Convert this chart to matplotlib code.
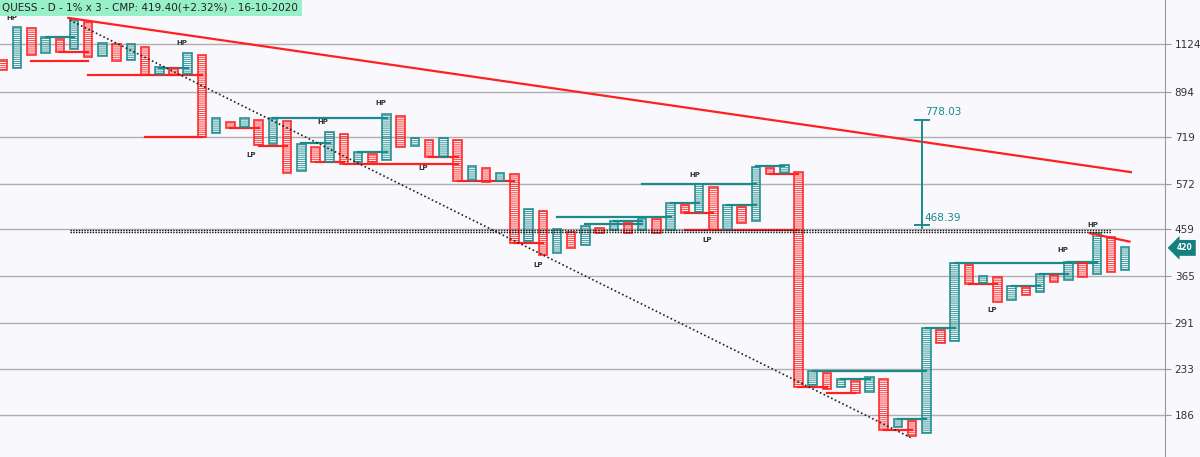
import matplotlib
matplotlib.use("Agg")
import matplotlib.pyplot as plt
import numpy as np

# P&F columns (even index = red/O column, odd = teal/X column)
col_top = [1042,1223,1217,1165,1153,1265,1250,1131,1124,1124,1110,1007,1002,1078,1067,786,771,786,779,786,
           775,693,683,735,728,667,660,802,794,714,707,714,707,623,617,602,599,506,501,459,
           452,466,461,477,473,484,482,521,516,571,563,516,511,620,617,626,605,231,228,222,
           220,224,222,183,181,284,281,389,386,365,364,348,346,369,367,391,389,450,442,421]
col_bot = [992,1002,1067,1078,1083,1099,1057,1062,1037,1042,969,973,969,973,719,731,749,753,690,693,
           602,608,635,635,629,635,635,641,683,687,651,651,579,582,577,579,429,433,405,409,
           419,425,450,457,450,457,450,457,496,499,457,457,473,477,599,602,213,215,211,213,
           207,208,173,176,168,171,264,267,352,353,322,325,333,338,355,358,364,369,373,376]

# support/resistance lines: (start col, end col, price, colour key)
lv_start = [2,6,4,10,11,3,19,16,18,21,22,25,30,24,32,36,39,41,43,47,45,48,51,54,53,48,56,57,58,59,62,63,65,67,68,71,73,75]
lv_end   = [6,14,6,14,13,5,27,18,20,23,24,27,32,32,36,38,47,45,45,49,53,50,53,56,55,56,58,65,60,61,64,65,67,77,70,73,75,77]
lv_price = [1037,969,1083,719,1002,1165,786,749,687,697,635,667,651,629,580,429,486,470,477,521,571,496,516,599,623,457,213,231,207,222,173,183,284,389,352,348,369,391]
lv_kind  = ['r','r','r','r','t','t','t','r','r','t','r','t','r','r','r','r','t','t','t','t','t','r','t','r','t','r','r','t','r','t','r','t','t','t','r','t','t','t']

hp_cols = [0.6,12.6,26.6,22.5,48.7,74.6,76.7]
hp_price = [1275,1131,846,771,596,415,468]
lp_cols = [17.5,29.6,37.7,49.6,69.6]
lp_price = [657,617,386,435,310]

yticks = [1124,894,719,572,459,365,291,233,186]

RED = '#ff2020'
TEAL = '#1a8a8a'
cmap = {'r': RED, 't': TEAL}

plt.rcParams['hatch.linewidth'] = 0.7
fig = plt.figure(figsize=(12, 4.57), dpi=100)
fig.patch.set_facecolor('#f8f8fd')
ax = fig.add_axes([0, 0, 1165/1200, 1])
ax.set_facecolor('#f8f8fd')
ax.set_yscale('log')
ax.set_ylim(152, 1394)
ax.set_xlim(-0.21, 81.8)

for y in yticks:
    ax.axhline(y, color='#b0b0b0', lw=1, zorder=0)

for i, (t, b) in enumerate(zip(col_top, col_bot)):
    c = RED if i % 2 == 0 else TEAL
    ax.bar(i, t - b, bottom=b, width=0.6, color='none', edgecolor=c,
           hatch='--------', linewidth=1.3, alpha=0.85, zorder=3)

for s, e, p, k in zip(lv_start, lv_end, lv_price, lv_kind):
    ax.plot([s, e], [p, p], color=cmap[k], lw=1.6, zorder=2)

for x, p in zip(hp_cols, hp_price):
    ax.text(x, p, 'HP', fontsize=5, fontweight='bold', color='#333', ha='center', va='center')
for x, p in zip(lp_cols, lp_price):
    ax.text(x, p, 'LP', fontsize=5, fontweight='bold', color='#333', ha='center', va='center')

# trend lines
ax.plot([4.7, 63.9], [1265, 167], color='#222', lw=1.2, ls=(0, (1, 1.5)), zorder=4)
ax.plot([4.6, 79.4], [1278, 605], color=RED, lw=1.6, zorder=4)
ax.plot([76.5, 79.3], [450, 432], color=RED, lw=1.6, zorder=4)
ax.plot([4.7, 78], [457, 457], color='#111', lw=1, ls=(0, (1, 1)), zorder=4)
ax.plot([4.7, 78], [453, 453], color='#111', lw=1, ls=(0, (1, 1)), zorder=4)

# projection
ax.plot([64.7, 64.7], [778.03, 461], color=TEAL, lw=1.4, zorder=4)
ax.plot([64.2, 65.2], [778.03, 778.03], color=TEAL, lw=1.4)
ax.plot([64.2, 65.2], [468.39, 468.39], color=TEAL, lw=1.4)
ax.text(64.9, 790, '778.03', color=TEAL, fontsize=7.5, va='bottom')
ax.text(64.9, 472, '468.39', color=TEAL, fontsize=7.5, va='bottom')

ax.yaxis.tick_right()
ax.set_yticks(yticks)
ax.set_yticklabels([str(y) for y in yticks], fontsize=7.5, color='#333')
ax.yaxis.set_minor_locator(matplotlib.ticker.NullLocator())
ax.tick_params(axis='y', length=4, color='#999', pad=3)
ax.set_xticks([])
for s in ['top', 'left', 'bottom']:
    ax.spines[s].set_visible(False)
ax.spines['right'].set_color('#999')

# current price tag
fig.text(1183/1200, 0, '', transform=fig.transFigure)
ax.annotate('420', xy=(1.0, 419), xycoords=('axes fraction', 'data'),
            xytext=(14, 0), textcoords='offset points', ha='center', va='center',
            fontsize=5.5, fontweight='bold', color='white', annotation_clip=False,
            bbox=dict(boxstyle='larrow,pad=0.45', fc='#137f7f', ec='none'))

fig.text(0.002, 0.995, 'QUESS - D - 1% x 3 - CMP: 419.40(+2.32%) - 16-10-2020',
         fontsize=7.5, color='#222', ha='left', va='top',
         bbox=dict(boxstyle='square,pad=0.35', fc='#98f0c8', ec='none'))

fig.savefig('out.png', dpi=100, facecolor=fig.get_facecolor())
